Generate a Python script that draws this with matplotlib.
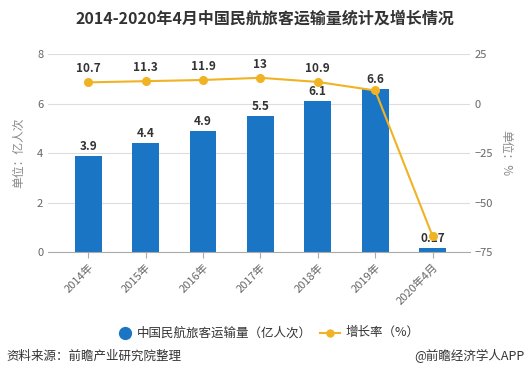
import matplotlib
matplotlib.use("Agg")
import matplotlib.pyplot as plt

plt.rcParams['font.family'] = ['Noto Sans CJK SC', 'DejaVu Sans']

# 数据
years = ["2014年", "2015年", "2016年", "2017年", "2018年", "2019年", "2020年4月"]
passengers = [3.9, 4.4, 4.9, 5.5, 6.1, 6.6, 0.17]  # 亿人次
growth = [10.7, 11.3, 11.9, 13, 10.9, 6.6, -67]  # %
# 2019年的增长率标签与柱子标签重合（都是6.6），只画一次
growth_labels = ["10.7", "11.3", "11.9", "13", "10.9", "", ""]

bar_color = "#1a75c4"
line_color = "#f0b323"
gray = "#666666"

fig = plt.figure(figsize=(5.3, 3.86), dpi=100)
ax = fig.add_axes([0.0906, 0.347, 0.796, 0.513])
x = list(range(len(years)))

ax.bar(x, passengers, width=0.47, color=bar_color, zorder=2)
for xi, v in zip(x, passengers):
    ax.text(xi, v + 0.12, f"{v:g}", ha="center", va="bottom", fontsize=8.5,
            fontweight="bold", color="#333333", zorder=5)

ax.set_ylim(0, 8)
ax.set_yticks([0, 2, 4, 6, 8])
ax.set_xlim(-0.7, len(years) - 0.35)
ax.set_xticks(x)
ax.set_xticklabels(years, rotation=45, ha="right", rotation_mode="anchor")
ax.tick_params(axis="both", colors=gray, labelsize=8, length=0)
ax.tick_params(axis="x", length=4, color="#aaaaaa", pad=3)
ax.grid(axis="y", color="#dddddd", linewidth=0.8, zorder=0)
for s in ["top", "right", "left"]:
    ax.spines[s].set_visible(False)
ax.spines["bottom"].set_color("#aaaaaa")
ax.set_ylabel("单位：亿人次", color="#888888", fontsize=8.5, labelpad=8)

ax2 = ax.twinx()
ax2.plot(x, growth, color=line_color, linewidth=1.5, marker="o", markersize=5.5, zorder=4)
for xi, v, lab in zip(x, growth, growth_labels):
    if lab:
        ax2.text(xi, v + 3.5, lab, ha="center", va="bottom", fontsize=8.5,
                 fontweight="bold", color="#333333")
ax2.set_ylim(-75, 25)
ax2.set_yticks([-75, -50, -25, 0, 25])
ax2.tick_params(axis="y", colors=gray, labelsize=8, length=0)
for s in ["top", "right", "left", "bottom"]:
    ax2.spines[s].set_visible(False)
ax2.set_ylabel("单位：%", color="#888888", fontsize=8.5, rotation=270, labelpad=14)

fig.text(0.5, 0.953, "2014-2020年4月中国民航旅客运输量统计及增长情况", ha="center",
         va="center", fontsize=11.5, fontweight="bold", color="#333333")

# 图例
ly = 0.138
fig.lines.append(plt.Line2D([0.236], [ly], marker="o", markersize=8.5, color=bar_color,
                            transform=fig.transFigure, linestyle="none"))
fig.text(0.258, ly, "中国民航旅客运输量（亿人次）", va="center", fontsize=9, color="#333333")
fig.lines.append(plt.Line2D([0.604, 0.641], [ly, ly], color=line_color, linewidth=1.5,
                            transform=fig.transFigure))
fig.lines.append(plt.Line2D([0.6225], [ly], marker="o", markersize=5, color=line_color,
                            transform=fig.transFigure, linestyle="none"))
fig.text(0.651, ly, "增长率（%）", va="center", fontsize=9, color="#333333")

fig.text(0.012, 0.078, "资料来源：前瞻产业研究院整理", va="center", fontsize=9, color="#333333")
fig.text(0.99, 0.078, "@前瞻经济学人APP", ha="right", va="center", fontsize=9, color="#333333")

fig.savefig("out.png", dpi=100, facecolor="white")
